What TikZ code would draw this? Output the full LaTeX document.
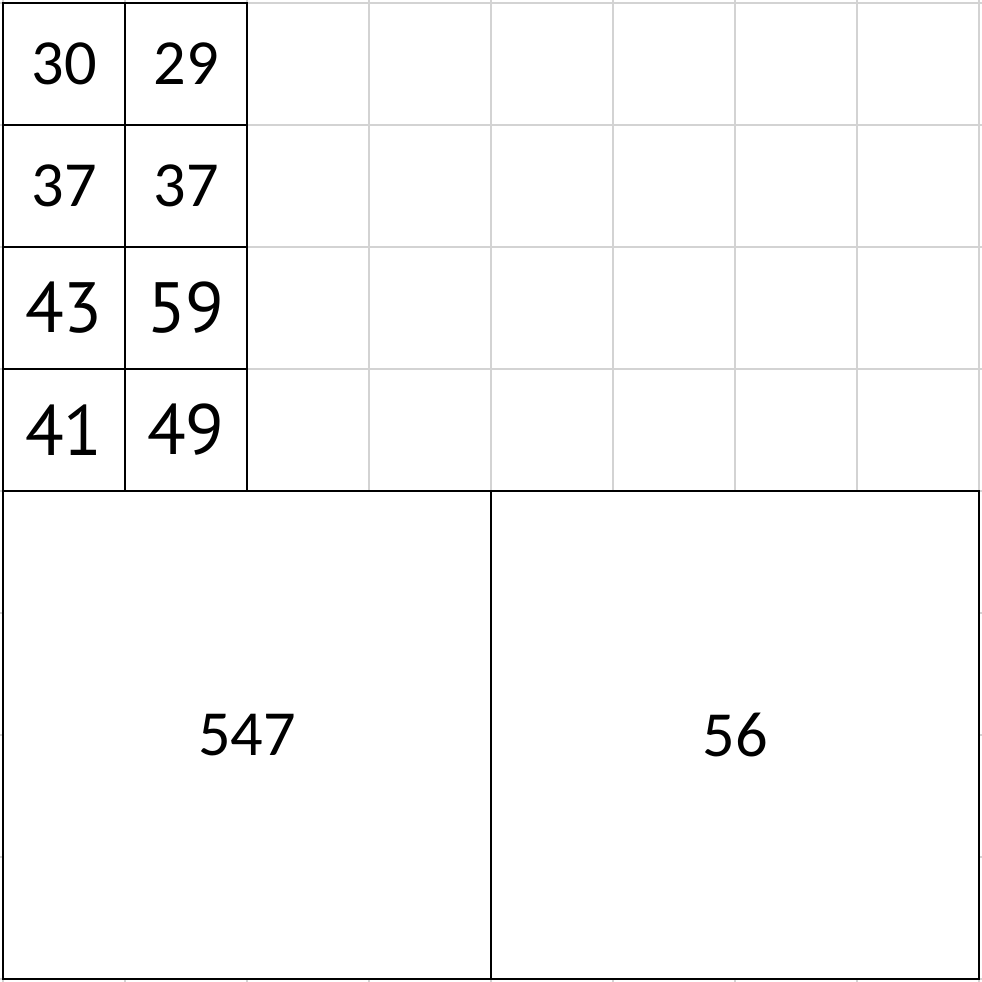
\documentclass[tikz,border=0pt]{standalone}
\usepackage{fontspec}
\usepackage{xcolor}
\newfontfamily\cellFont{Carlito}
\newfontfamily\wideFont{PT Sans}
\definecolor{gridGray}{RGB}{211,211,211}
\newcommand{\cellScale}[0]{1cm}

\begin{document}
\begin{tikzpicture}[x=\cellScale, y=\cellScale]
  \tikzset{cell/.style={draw=black, fill=white, line width=0.47pt, minimum size=1cm,
      inner sep=0pt, outer sep=0pt, font=\cellFont\fontsize{15}{16}\selectfont},
    wide cell/.style={cell, font=\wideFont\fontsize{16.6}{18}\selectfont},
    big cell/.style={cell, minimum size=4cm}}
  \useasboundingbox (-0.0246,0.0246) rectangle (8.0246,-8.0246);
  \draw[gridGray, line width=0.47pt] (-0.0246,-8.0246) grid (8.0246,0.0246);
  % upper columns
  \node[cell] (r1a) at (0.5,-0.5) {30};
  \node[cell] (r1b) at (1.5,-0.5) {29};
  \node[cell] (r2a) at (0.5,-1.5) {37};
  \node[cell] (r2b) at (1.5,-1.5) {37};
  \node[wide cell] (r3a) at (0.5,-2.5) {43};
  \node[wide cell] (r3b) at (1.5,-2.5) {59};
  \node[wide cell] (r4a) at (0.5,-3.5) {41};
  \node[wide cell] (r4b) at (1.5,-3.5) {49};
  % lower blocks
  \node[big cell] (lowLeft) at (2,-6) {547};
  \node[big cell] (lowRight) at (6,-6) {56};
\end{tikzpicture}
\end{document}
